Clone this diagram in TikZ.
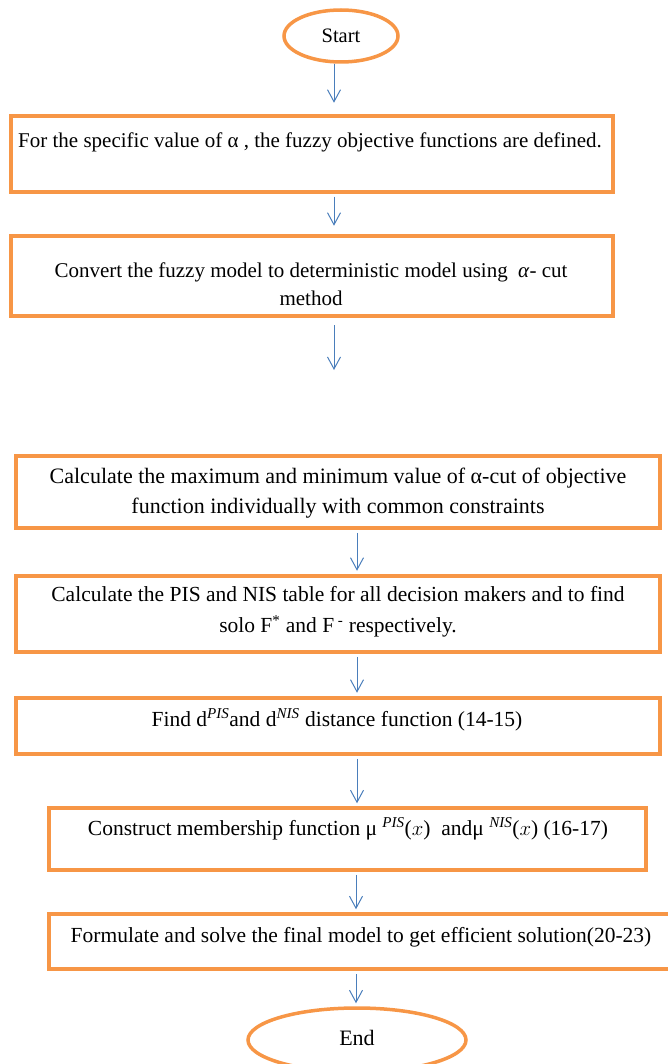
\documentclass[tikz,border=0pt]{standalone}
\usepackage{fontspec}
\setmainfont{Liberation Serif}
\usetikzlibrary{arrows.meta,shapes.geometric}
\definecolor{boxorange}{HTML}{F79646}
\definecolor{arrowblue}{HTML}{4A7EBB}

\begin{document}
\begin{tikzpicture}[x=1pt,y=-1pt,
  stepbox/.style={draw=boxorange, line width=4.5pt, rectangle, inner sep=0pt},
  terminal/.style={draw=boxorange, line width=3.5pt, ellipse, inner sep=0pt},
  steptext/.style={font=\fontsize{21.5}{31}\selectfont, align=center, inner sep=0pt},
  arr/.style={draw=arrowblue, line width=1pt, -{Straight Barb[length=12pt,width=13pt]}}
]
\useasboundingbox (0,0) rectangle (668,1064);
\clip (0,0) rectangle (668,1064);

% terminals
\node[terminal, minimum width=114pt, minimum height=52pt] (start) at (341,36) {};
\node[font=\fontsize{20.5}{22}\selectfont, inner sep=0pt] (starttext) at (341,36) {Start};

% process boxes
\node[stepbox, minimum width=602pt, minimum height=76pt] (b1) at (312,154) {};
\node[stepbox, minimum width=602pt, minimum height=80pt] (b2) at (312,276) {};
\node[stepbox, minimum width=644pt, minimum height=72pt] (b3) at (338,492) {};
\node[stepbox, minimum width=644pt, minimum height=76pt] (b4) at (338,614) {};
\node[stepbox, minimum width=644pt, minimum height=56pt] (b5) at (338,726) {};
\node[stepbox, minimum width=597pt, minimum height=62pt] (b6) at (347.5,839) {};
\node[stepbox, minimum width=623pt, minimum height=55pt] (b7) at (360.5,941.5) {};

\node[terminal, minimum width=218pt, minimum height=64pt] (end) at (357,1040) {};
\node[font=\fontsize{22}{24}\selectfont, inner sep=0pt] (endtext) at (357,1038) {End};

% box texts
\node[steptext, font=\fontsize{21}{28}\selectfont] (t1) at (310,142)
  {For the specific value of α , the fuzzy objective functions are defined.};
\node[steptext, font=\fontsize{21}{28}\selectfont] (t2) at (311,284)
  {Convert the fuzzy model to deterministic model using \ \textit{α}- cut\\method};
\node[steptext, font=\fontsize{22}{30}\selectfont] (t3) at (338,493)
  {Calculate the maximum and minimum value of α-cut of objective\\function individually with common constraints};
\node[steptext] (t4) at (338,612)
  {Calculate the PIS and NIS table for all decision makers and to find\\solo F\textsuperscript{*} and F\textsuperscript{ -} respectively.};
\node[steptext] (t5) at (337,720)
  {Find d\textsuperscript{\textit{PIS}}and d\textsuperscript{\textit{NIS}} distance function (14-15)};
\node[steptext] (t6) at (348,829)
  {Construct membership function μ \textsuperscript{\textit{PIS}}($x$) \ andμ \textsuperscript{\textit{NIS}}($x$) (16-17)};
\node[steptext] (t7) at (361,937)
  {Formulate and solve the final model to get efficient solution(20-23)};

% connectors
\coordinate (free) at (334,370);
\draw[arr, shorten >=11pt] ([xshift=-7pt]start.south) -- ([xshift=22pt]b1.north);
\draw[arr, shorten <=2.5pt, shorten >=8pt] ([xshift=22pt]b1.south) -- ([xshift=22pt]b2.north);
\draw[arr, shorten <=7pt] ([xshift=22pt]b2.south) -- (free);
\draw[arr, shorten <=2.5pt, shorten >=3pt] ([xshift=19pt]b3.south) -- ([xshift=19pt]b4.north);
\draw[arr, shorten <=2.5pt, shorten >=3pt] ([xshift=19pt]b4.south) -- ([xshift=19pt]b5.north);
\draw[arr, shorten <=2.5pt, shorten >=2.5pt] ([xshift=19pt]b5.south) -- ([xshift=9.5pt]b6.north);
\draw[arr, shorten <=2.5pt, shorten >=2.5pt] ([xshift=8.5pt]b6.south) -- ([xshift=-4.5pt]b7.north);
\draw[arr, shorten <=2.5pt, shorten >=3pt] ([xshift=-4.5pt]b7.south) -- ([xshift=-1pt]end.north);
\end{tikzpicture}
\end{document}
